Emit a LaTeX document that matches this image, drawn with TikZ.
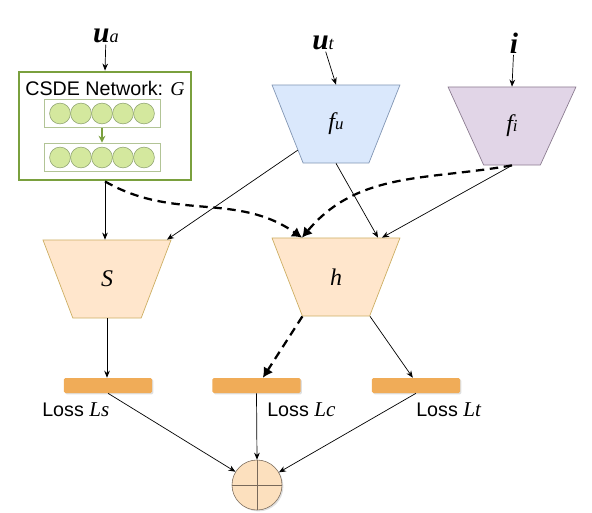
\documentclass[tikz,border=0pt]{standalone}
\usepackage{fontspec}
\setmainfont{Liberation Sans}
\newfontfamily\tms{Liberation Serif}
\usepackage{tikz}
\usetikzlibrary{shapes.geometric, arrows.meta, positioning, calc, shadows}
\definecolor{csdegreen}{RGB}{122,160,62}
\definecolor{cellfill}{RGB}{212,232,158}
\definecolor{celldraw}{RGB}{140,160,110}
\definecolor{rowdraw}{RGB}{178,196,150}
\definecolor{fublue}{RGB}{218,232,252}
\definecolor{fuedge}{RGB}{130,150,180}
\definecolor{fipurple}{RGB}{225,213,231}
\definecolor{fiedge}{RGB}{140,125,145}
\definecolor{peach}{RGB}{255,230,204}
\definecolor{peachedge}{RGB}{205,175,100}
\definecolor{lossorange}{RGB}{240,172,88}
\definecolor{sumfill}{RGB}{252,224,190}
\definecolor{sumedge}{RGB}{120,105,90}
\newcommand{\invar}[2]{{\tms\bfseries\itshape #1}{\tms\itshape\fontsize{13}{13}\selectfont #2}}
\newcommand{\fnlab}[2]{{\tms\itshape #1}{\tms\itshape\fontsize{12}{12}\selectfont #2}}
\tikzset{
  netbox/.style={trapezium, shape border rotate=180, trapezium stretches=true,
    trapezium left angle=72, trapezium right angle=72,
    minimum width=3.2cm, minimum height=1.95cm, inner sep=0pt,
    font=\fontsize{17}{19}\selectfont, line width=0.5pt},
  lossbar/.style={rectangle, fill=lossorange, minimum width=2.2cm,
    minimum height=0.375cm, rounded corners=1pt,
    drop shadow={opacity=0.25, shadow xshift=1pt, shadow yshift=-1pt}},
  arrow/.style={-{Stealth[length=5pt,width=4pt]}, line width=0.5pt, color=black},
  dasharrow/.style={-{Latex[length=7pt,width=8pt]}, line width=1.6pt, dash pattern=on 6pt off 4pt}
}

\begin{document}
\begin{tikzpicture}[x=0.025cm, y=-0.025cm,
  inlbl/.style={font=\fontsize{21}{23}\selectfont, inner sep=1pt},
  cell/.style={circle, draw=celldraw, fill=cellfill, minimum size=0.52cm, inner sep=0pt, line width=0.4pt},
  cellrow/.style={rectangle, draw=rowdraw, minimum width=2.9cm, minimum height=0.72cm, line width=0.6pt},
  losslbl/.style={anchor=west, font=\fontsize{14}{16}\selectfont, inner sep=0pt}
]
\useasboundingbox (0,0) rectangle (592,513);

% inputs
\node[inlbl] (ua) at (106,36) {\invar{u}{a}};
\node[inlbl] (ut) at (323,43) {\invar{u}{t}};
\node[inlbl] (iv) at (514,43) {\invar{i}{}};

% CSDE network
\node[rectangle, draw=csdegreen, line width=2pt, minimum width=4.3cm, minimum height=2.7cm] (csde) at (105,126) {};
\node[font=\fontsize{14}{16}\selectfont] (csdetitle) at (105,88) {CSDE Network: {\tms\itshape G}};
\node[cellrow] (row1) at (102,113.5) {};
\node[cellrow] (row2) at (102,157.5) {};
\foreach \k in {0,...,4} {
  \node[cell] (top\k) at (60+21*\k,113.5) {};
  \node[cell] (bot\k) at (60+21*\k,157.5) {};
}
\draw[-{Stealth[length=5pt,width=5pt]}, csdegreen, line width=1.2pt] (row1.south) -- (row2.north);

% networks
\node[netbox, fill=fublue, draw=fuedge] (fu) at (336,124) {\fnlab{f}{u}};
\node[netbox, fill=fipurple, draw=fiedge] (fi) at (512,126) {\fnlab{f}{i}};
\node[netbox, fill=peach, draw=peachedge] (S) at (107,279) {{\tms\itshape S}};
\node[netbox, fill=peach, draw=peachedge] (h) at (336,277) {{\tms\itshape h}};

% losses
\node[lossbar] (lossS) at (108,385.5) {};
\node[lossbar] (lossC) at (256.5,385.5) {};
\node[lossbar] (lossT) at (416,385.5) {};
\node[losslbl] (lblS) at (42,410) {Loss {\tms\itshape\fontsize{15}{16}\selectfont Ls}};
\node[losslbl] (lblC) at (267,410) {Loss {\tms\itshape\fontsize{15}{16}\selectfont Lc}};
\node[losslbl] (lblT) at (416,410) {Loss {\tms\itshape\fontsize{15}{16}\selectfont Lt}};

\node[circle, draw=sumedge, fill=sumfill, minimum size=1.25cm, inner sep=0pt,
  drop shadow={opacity=0.25, shadow xshift=1pt, shadow yshift=-1pt}] (sum) at (257,485) {};
\draw[sumedge] (sum.north) -- (sum.south) (sum.west) -- (sum.east);

% connections
\draw[arrow] (ua) -- (csde.north);
\draw[arrow] (ut) -- (fu.north);
\draw[arrow] (iv) -- (fi.north);
\draw[arrow] (csde.south) -- (csde.south |- S.north);
\draw[arrow] (fu) -- ([xshift=1.5cm]S.north);
\draw[arrow] (fu.south) -- ([xshift=1.05cm]h.north);
\draw[arrow] (fi.south) -- ([xshift=1.15cm]h.north);
\draw[dasharrow] (csde.south) to[out=-30, in=145] ([xshift=-0.85cm]h.north);
\draw[dasharrow] (fi.south) to[out=190, in=50] ([xshift=-0.85cm]h.north);
\draw[dasharrow] ([xshift=-0.84cm]h.south) -- ([xshift=0.16cm]lossC.north);
\draw[arrow] ([xshift=0.85cm]h.south) -- ([xshift=-0.08cm]lossT.north);
\draw[arrow] (S.south) -- (S.south |- lossS.north);
\draw[arrow] (lossS.south) -- (sum);
\draw[arrow] (lossC.south) -- (sum.north);
\draw[arrow] (lossT.south) -- (sum);
\end{tikzpicture}
\end{document}
